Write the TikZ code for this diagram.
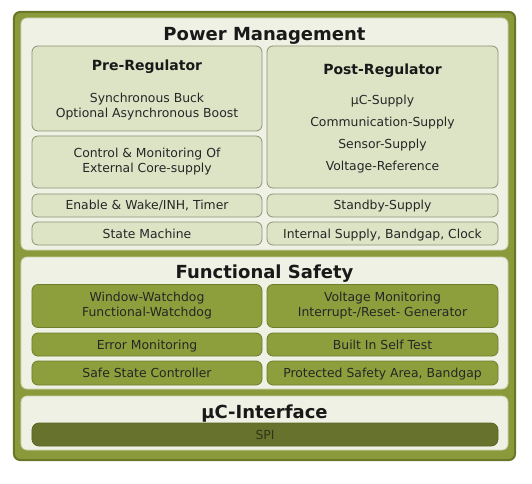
\documentclass[tikz,border=0pt]{standalone}
\usepackage{fontspec}
\setmainfont{DejaVu Sans}
\definecolor{outerfill}{HTML}{8A9A3B}
\definecolor{outerdraw}{HTML}{687828}
\definecolor{secfill}{HTML}{EEF1E4}
\definecolor{secdraw}{HTML}{C9D0AE}
\definecolor{pmfill}{HTML}{DDE4C6}
\definecolor{pmdraw}{HTML}{8C9275}
\definecolor{fsfill}{HTML}{8D9E3D}
\definecolor{fsdraw}{HTML}{6E7E2C}
\definecolor{spifill}{HTML}{67722D}
\definecolor{spidraw}{HTML}{5A6426}
\definecolor{txt}{HTML}{262626}
\definecolor{spitxt}{HTML}{2E3518}
\begin{document}
\begin{tikzpicture}[x=1bp,y=-1bp,
  every node/.style={inner sep=0pt,outer sep=0pt,text=txt},
  frame/.style={rectangle,rounded corners=6bp,fill=outerfill,draw=outerdraw,line width=2bp},
  section/.style={rectangle,rounded corners=6bp,fill=secfill,draw=secdraw,line width=0.8bp},
  pmbox/.style={rectangle,rounded corners=6bp,fill=pmfill,draw=pmdraw,line width=0.8bp,font=\fontsize{12.4bp}{15bp}\selectfont,align=center},
  fsbox/.style={rectangle,rounded corners=6bp,fill=fsfill,draw=fsdraw,line width=0.8bp,font=\fontsize{12.4bp}{15bp}\selectfont,align=center},
  spibox/.style={rectangle,rounded corners=7bp,fill=spifill,draw=spidraw,line width=0.8bp,font=\fontsize{12.4bp}{15bp}\selectfont,text=spitxt},
  oneline/.style={text height=9bp,text depth=0bp},
  headline/.style={anchor=base,font=\fontsize{18bp}{20bp}\selectfont\bfseries,text=black!90},
  subhead/.style={anchor=base,font=\fontsize{14bp}{16bp}\selectfont\bfseries,text=black!90},
  body/.style={anchor=base,font=\fontsize{12.4bp}{15bp}\selectfont},
]
\useasboundingbox (0,0) rectangle (532,484);
\fill[white] (0,0) rectangle (532,484);
% outer frame
\node[frame,minimum width=501bp,minimum height=448bp] (outer) at (264.5,236) {};
% sections
\node[section,minimum width=487bp,minimum height=232bp] (pm) at (264.5,134) {};
\node[section,minimum width=487bp,minimum height=132bp] (fs) at (264.5,323) {};
\node[section,minimum width=487bp,minimum height=54bp] (uc) at (264.5,423) {};
% titles
\node[headline] (pmt) at (264.5,40.5) {Power Management};
\node[headline] (fst) at (264.5,278.5) {Functional Safety};
\node[headline] (uct) at (264.5,418.5) {µC-Interface};
% power management boxes
\node[pmbox,minimum width=230bp,minimum height=85bp] (pre) at (147,88.5) {};
\node[subhead] (pret) at (147,71) {Pre-Regulator};
\node[body] (prea) at (147,102.5) {Synchronous Buck};
\node[body] (preb) at (147,117.5) {Optional Asynchronous Boost};
\node[pmbox,minimum width=230bp,minimum height=52bp] (ctrl) at (147,162) {Control \& Monitoring Of\\External Core-supply};
\node[pmbox,oneline,minimum width=230bp,minimum height=23bp] (enable) at (147,205.5) {Enable \& Wake/INH, Timer};
\node[pmbox,oneline,minimum width=230bp,minimum height=23bp] (state) at (147,233.5) {State Machine};
\node[pmbox,minimum width=231bp,minimum height=142bp] (post) at (382.5,117) {};
\node[subhead] (postt) at (382.5,75) {Post-Regulator};
\node[body] (posta) at (382.5,104.5) {µC-Supply};
\node[body] (postb) at (382.5,126.5) {Communication-Supply};
\node[body] (postc) at (382.5,148.5) {Sensor-Supply};
\node[body] (postd) at (382.5,170.5) {Voltage-Reference};
\node[pmbox,oneline,minimum width=231bp,minimum height=23bp] (standby) at (382.5,205.5) {Standby-Supply};
\node[pmbox,oneline,minimum width=231bp,minimum height=23bp] (internal) at (382.5,233.5) {Internal Supply, Bandgap, Clock};
% functional safety boxes
\node[fsbox,minimum width=230bp,minimum height=43bp] (wd) at (147,306) {Window-Watchdog\\Functional-Watchdog};
\node[fsbox,minimum width=231bp,minimum height=43bp] (vm) at (382.5,306) {Voltage Monitoring\\Interrupt-/Reset- Generator};
\node[fsbox,oneline,minimum width=230bp,minimum height=23bp] (err) at (147,344.5) {Error Monitoring};
\node[fsbox,oneline,minimum width=231bp,minimum height=23bp] (bist) at (382.5,344.5) {Built In Self Test};
\node[fsbox,oneline,minimum width=230bp,minimum height=24bp] (safe) at (147,373) {Safe State Controller};
\node[fsbox,oneline,minimum width=231bp,minimum height=24bp] (psa) at (382.5,373) {Protected Safety Area, Bandgap};
% interface
\node[spibox,oneline,minimum width=466bp,minimum height=23bp] (spi) at (265,434.5) {SPI};
\end{tikzpicture}
\end{document}
